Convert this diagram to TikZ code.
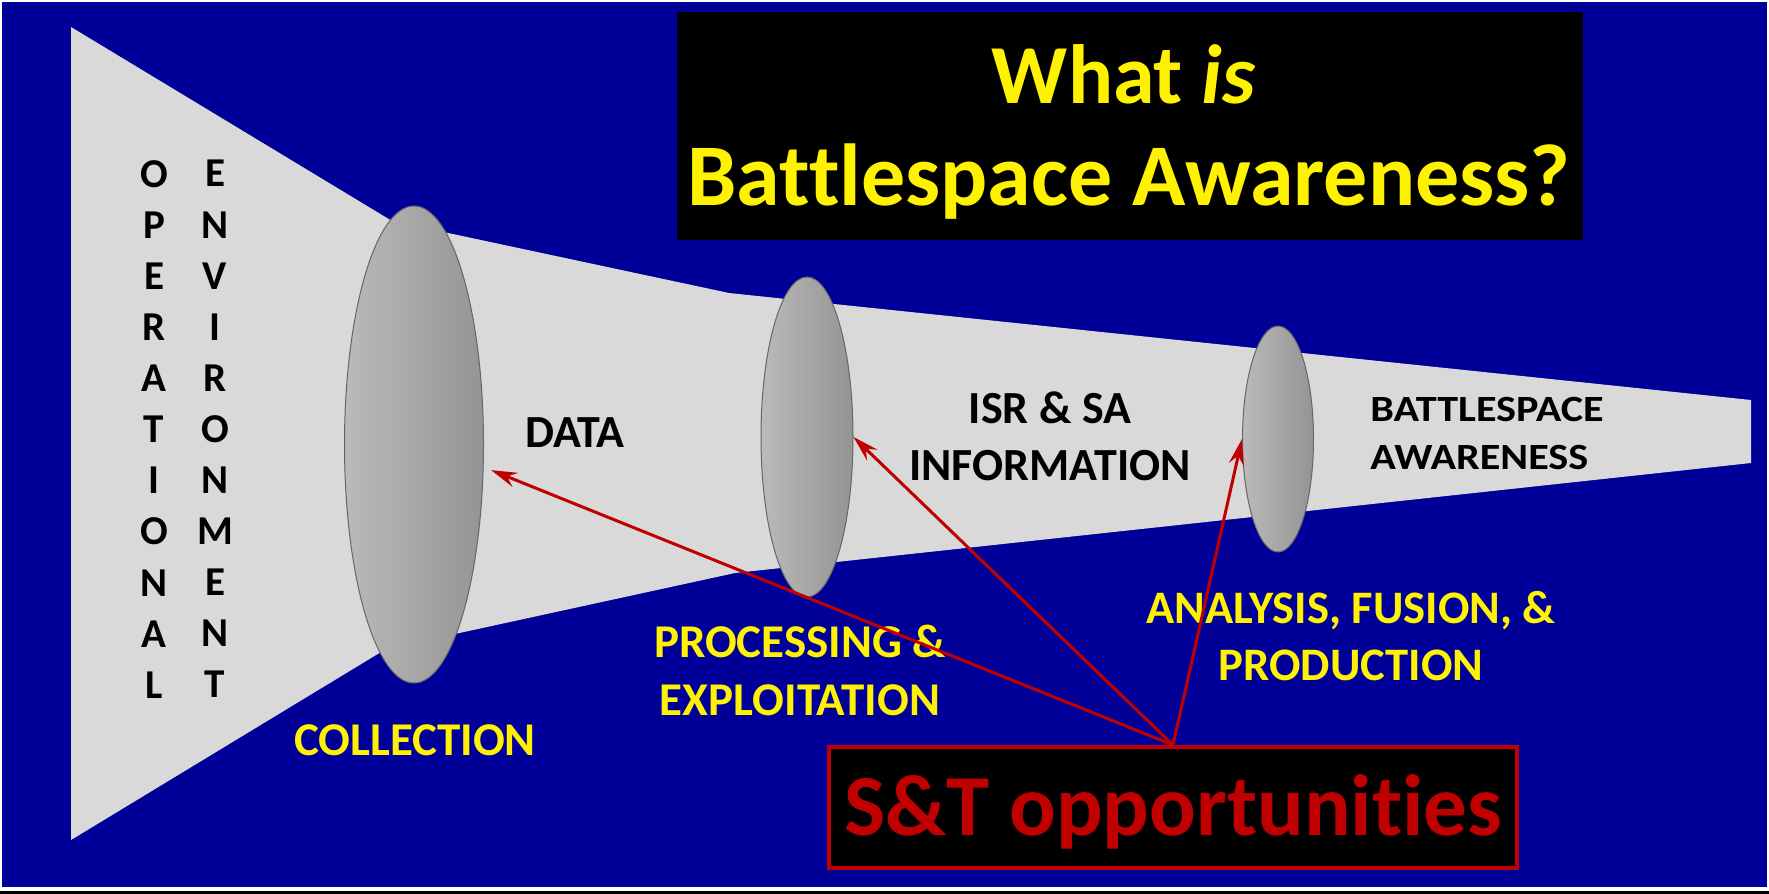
\documentclass[tikz,border=0pt]{standalone}
\usepackage{fontspec}
\setmainfont{Carlito}[Ligatures=NoCommon]
\usepackage[usenames,dvipsnames]{xcolor}
\usepackage{tikz}
\usetikzlibrary{shapes.geometric,arrows.meta}

\definecolor{slideblue}{RGB}{0,0,153}
\definecolor{funnelgray}{RGB}{217,217,217}
\definecolor{sntred}{RGB}{192,0,0}

\begin{document}
\begin{tikzpicture}[x=0.5pt,y=-0.5pt,
  lens/.style={ellipse, draw=black!60, line width=0.5pt, inner sep=0pt,
    left color=black!27, middle color=black!19, right color=black!42},
  darklabel/.style={font=\bfseries\fontsize{23}{28.5}\selectfont, text=black, inner sep=0pt, align=center},
  stagelabel/.style={font=\bfseries\fontsize{23.5}{29}\selectfont, text=yellow, inner sep=0pt, align=center},
  lettercol/.style={font=\bfseries\fontsize{20.5}{25.55}\selectfont, text=black, inner sep=0pt, align=center, anchor=north},
  titletext/.style={font=\bfseries\fontsize{42}{51}\selectfont, text=yellow, inner sep=0pt, anchor=base},
  opportunity/.style={draw=sntred, line width=1.5pt, -{Stealth[length=13pt,width=7.5pt,inset=4.5pt]}}]
  \useasboundingbox (0,0) rectangle (1769,894);

  % Draw background
  \fill [white] (0,0) rectangle (1769,894);
  \fill [slideblue] (2,2) rectangle (1767,887);
  \fill [black] (0,891) rectangle (1769,894);

  % Draw funnel
  \fill [funnelgray] (71,27) -- (392,221) -- (729,293) -- (1751,400) -- (1751,463)
    -- (735,573) -- (386,649) -- (71,840) -- cycle;

  % Draw lenses
  \node [lens, minimum width=69.5pt, minimum height=238.5pt] (lensA) at (414,444.5) {};
  \node [lens, minimum width=46pt, minimum height=160pt] (lensB) at (807,437) {};
  \node [lens, minimum width=35.5pt, minimum height=113pt] (lensC) at (1278,439) {};

  % Operational environment
  \node [lettercol] (oper) at (154,160) {O\\P\\E\\R\\A\\T\\I\\O\\N\\A\\L};
  \node [lettercol] (envi) at (215,160) {E\\N\\V\\I\\R\\O\\N\\M\\E\\N\\T};

  % Products along the funnel
  \node [darklabel, anchor=base] (data) at (575,447) {DATA};
  \node [darklabel, anchor=north] (isrsa) at (1050,391) {ISR \& SA\\INFORMATION};
  \node [darklabel, anchor=north west, align=left,
    font=\bfseries\fontsize{18.5}{24}\selectfont\addfontfeatures{FakeStretch=1.14}] (bsaware) at (1370,397) {BATTLESPACE\\AWARENESS};

  % Stages
  \node [stagelabel, anchor=base] (collect) at (415,755) {COLLECTION};
  \node [stagelabel, anchor=north] (procexp) at (800,625) {PROCESSING \&\\EXPLOITATION};
  \node [stagelabel, anchor=north, font=\bfseries\fontsize{23.3}{28.5}\selectfont] (analysis) at (1351,591) {ANALYSIS, FUSION, \&\\PRODUCTION};

  % Title
  \fill [black] (677,12) rectangle (1583,240);
  \node [titletext] (whatis) at (1124,103) {What \textit{is}};
  \node [titletext, font=\bfseries\fontsize{44}{51}\selectfont] (bsq) at (1129,205) {Battlespace Awareness?};

  % S&T box and arrows
  \node [draw=sntred, line width=2pt, fill=black, minimum width=344pt, minimum height=60.5pt,
    text height=27.5pt, text depth=-2pt, inner sep=0pt, text=sntred,
    font=\bfseries\fontsize{43.5}{52}\selectfont] (snt) at (1173,807.5) {S\&T opportunities};
  \draw [opportunity, shorten >=4pt] (snt.north) -- (lensA.-18);
  \draw [opportunity] (snt.north) -- (lensB.east);
  \draw [opportunity] (snt.north) -- (lensC.west);
\end{tikzpicture}
\end{document}
